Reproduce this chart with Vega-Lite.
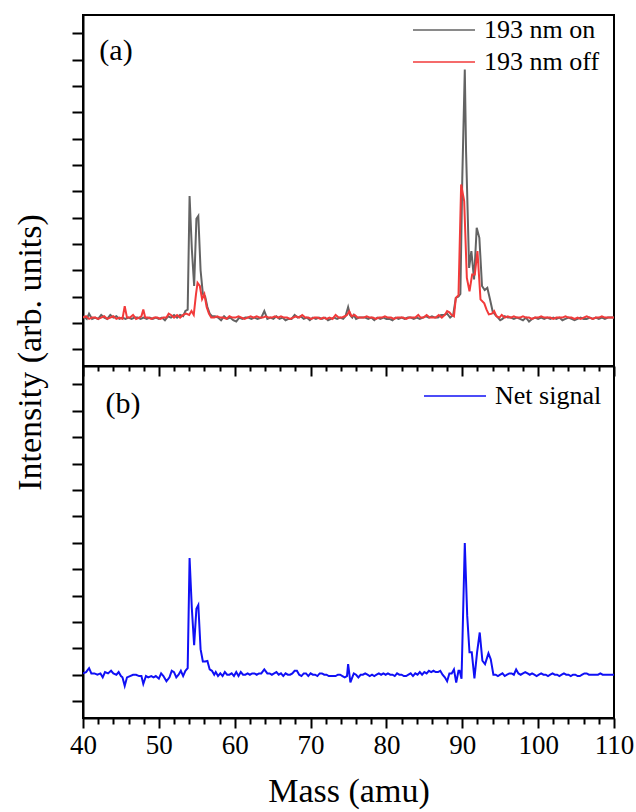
{
"$schema": "https://vega.github.io/schema/vega-lite/v6.json",
"padding": {"left": 12, "top": 14, "right": 4, "bottom": 2},
"background": "white",
"bounds": "flush",
"config": {
  "font": "Liberation Serif, Times New Roman, serif",
  "style": {"guide-label": {"font": "Liberation Serif, Times New Roman, serif"}, "guide-title": {"font": "Liberation Serif, Times New Roman, serif"}},
  "view": {"stroke": "black", "strokeWidth": 2},
  "axis": {"domainColor": "black", "domainWidth": 2, "tickColor": "black", "tickWidth": 2, "grid": false, "labelColor": "black", "titleColor": "black", "labelFont": "Liberation Serif, Times New Roman, serif", "titleFont": "Liberation Serif, Times New Roman, serif", "titleFontWeight": "normal"},
  "legend": {"labelFont": "Liberation Serif, Times New Roman, serif", "labelFontSize": 26, "labelColor": "black", "symbolType": "stroke", "symbolSize": 3844, "symbolStrokeWidth": 1.6, "labelOffset": 8, "clipHeight": 30, "rowPadding": 2, "padding": 0, "title": null}
},
"datasets": {
"on": [
{"m":40.0,"v":0.25},{"m":40.5,"v":0.15},{"m":40.8,"v":0.35},{"m":41.2,"v":0.15},{"m":41.6,"v":0.2},{"m":42.0,"v":0.15},{"m":42.4,"v":0.3},{"m":42.8,"v":0.2},{"m":43.2,"v":0.15},{"m":43.6,"v":0.3},{"m":44.0,"v":0.2},{"m":44.4,"v":0.25},{"m":44.8,"v":0.15},{"m":45.2,"v":0.2},{"m":45.6,"v":0.15},{"m":46.0,"v":0.2},{"m":46.4,"v":0.15},{"m":46.8,"v":0.2},{"m":47.2,"v":0.2},{"m":47.6,"v":0.15},{"m":48.0,"v":0.2},{"m":48.4,"v":0.15},{"m":48.8,"v":0.2},{"m":49.2,"v":0.15},{"m":49.6,"v":0.2},{"m":50.0,"v":0.15},{"m":50.4,"v":0.2},{"m":50.8,"v":0.1},{"m":51.2,"v":0.25},{"m":51.6,"v":0.2},{"m":52.0,"v":0.3},{"m":52.4,"v":0.2},{"m":52.8,"v":0.3},{"m":53.2,"v":0.25},{"m":53.5,"v":0.45},{"m":53.8,"v":0.5},{"m":54.05,"v":4.82},{"m":54.35,"v":2.8},{"m":54.65,"v":1.4},{"m":54.95,"v":3.95},{"m":55.2,"v":4.06},{"m":55.5,"v":2.0},{"m":55.8,"v":1.1},{"m":56.1,"v":1.0},{"m":56.4,"v":0.6},{"m":56.7,"v":0.35},{"m":57.0,"v":0.25},{"m":57.4,"v":0.25},{"m":57.8,"v":0.2},{"m":58.2,"v":0.1},{"m":58.6,"v":0.25},{"m":59.0,"v":0.15},{"m":59.4,"v":0.2},{"m":59.8,"v":0.1},{"m":60.2,"v":0.05},{"m":60.6,"v":0.2},{"m":61.0,"v":0.15},{"m":61.4,"v":0.2},{"m":61.8,"v":0.2},{"m":62.2,"v":0.15},{"m":62.6,"v":0.2},{"m":63.0,"v":0.15},{"m":63.5,"v":0.2},{"m":63.9,"v":0.45},{"m":64.3,"v":0.15},{"m":64.7,"v":0.2},{"m":65.1,"v":0.15},{"m":65.5,"v":0.25},{"m":65.9,"v":0.15},{"m":66.3,"v":0.2},{"m":66.7,"v":0.1},{"m":67.1,"v":0.15},{"m":67.5,"v":0.15},{"m":67.9,"v":0.3},{"m":68.3,"v":0.2},{"m":68.7,"v":0.25},{"m":69.1,"v":0.15},{"m":69.5,"v":0.2},{"m":69.9,"v":0.1},{"m":70.3,"v":0.2},{"m":70.7,"v":0.15},{"m":71.1,"v":0.2},{"m":71.5,"v":0.15},{"m":71.9,"v":0.2},{"m":72.3,"v":0.1},{"m":72.7,"v":0.15},{"m":73.1,"v":0.2},{"m":73.5,"v":0.15},{"m":73.9,"v":0.2},{"m":74.3,"v":0.15},{"m":74.6,"v":0.25},{"m":74.95,"v":0.6},{"m":75.2,"v":0.3},{"m":75.5,"v":0.2},{"m":75.7,"v":0.3},{"m":76.0,"v":0.15},{"m":76.4,"v":0.2},{"m":76.8,"v":0.2},{"m":77.2,"v":0.2},{"m":77.6,"v":0.15},{"m":78.0,"v":0.2},{"m":78.4,"v":0.1},{"m":78.8,"v":0.2},{"m":79.2,"v":0.15},{"m":79.6,"v":0.2},{"m":80.0,"v":0.15},{"m":80.4,"v":0.15},{"m":80.8,"v":0.1},{"m":81.2,"v":0.2},{"m":81.6,"v":0.15},{"m":82.0,"v":0.2},{"m":82.4,"v":0.15},{"m":82.8,"v":0.2},{"m":83.2,"v":0.2},{"m":83.6,"v":0.15},{"m":84.0,"v":0.2},{"m":84.4,"v":0.15},{"m":84.8,"v":0.2},{"m":85.2,"v":0.25},{"m":85.6,"v":0.2},{"m":86.0,"v":0.25},{"m":86.4,"v":0.2},{"m":86.8,"v":0.2},{"m":87.2,"v":0.3},{"m":87.6,"v":0.3},{"m":88.0,"v":0.35},{"m":88.4,"v":0.2},{"m":88.8,"v":0.3},{"m":89.15,"v":0.95},{"m":89.5,"v":1.0},{"m":89.75,"v":1.1},{"m":90.0,"v":5.5},{"m":90.33,"v":9.63},{"m":90.5,"v":6.5},{"m":90.9,"v":2.09},{"m":91.2,"v":2.73},{"m":91.55,"v":1.65},{"m":91.9,"v":3.61},{"m":92.25,"v":3.23},{"m":92.6,"v":1.4},{"m":92.95,"v":1.25},{"m":93.3,"v":1.33},{"m":93.65,"v":0.9},{"m":94.0,"v":0.44},{"m":94.35,"v":0.3},{"m":94.7,"v":0.2},{"m":95.0,"v":0.1},{"m":95.3,"v":0.15},{"m":95.6,"v":0.25},{"m":96.0,"v":0.2},{"m":96.4,"v":0.2},{"m":96.8,"v":0.15},{"m":97.2,"v":0.2},{"m":97.6,"v":0.15},{"m":98.0,"v":0.1},{"m":98.4,"v":0.2},{"m":98.8,"v":0.05},{"m":99.2,"v":0.15},{"m":99.6,"v":0.2},{"m":100.0,"v":0.15},{"m":100.4,"v":0.2},{"m":100.8,"v":0.15},{"m":101.2,"v":0.2},{"m":101.6,"v":0.15},{"m":102.0,"v":0.2},{"m":102.4,"v":0.15},{"m":102.8,"v":0.2},{"m":103.2,"v":0.1},{"m":103.6,"v":0.15},{"m":104.0,"v":0.2},{"m":104.4,"v":0.15},{"m":104.8,"v":0.1},{"m":105.2,"v":0.15},{"m":105.6,"v":0.2},{"m":106.0,"v":0.15},{"m":106.4,"v":0.15},{"m":106.8,"v":0.2},{"m":107.2,"v":0.15},{"m":107.6,"v":0.2},{"m":108.0,"v":0.15},{"m":108.4,"v":0.2},{"m":108.8,"v":0.15},{"m":109.2,"v":0.2},{"m":109.6,"v":0.2},{"m":110.0,"v":0.2}
],
"off": [
{"m":40.0,"v":0.2},{"m":40.4,"v":0.25},{"m":40.8,"v":0.15},{"m":41.2,"v":0.2},{"m":41.6,"v":0.2},{"m":42.0,"v":0.15},{"m":42.4,"v":0.2},{"m":42.8,"v":0.25},{"m":43.2,"v":0.15},{"m":43.6,"v":0.2},{"m":44.0,"v":0.25},{"m":44.4,"v":0.15},{"m":44.8,"v":0.2},{"m":45.2,"v":0.15},{"m":45.5,"v":0.63},{"m":45.8,"v":0.2},{"m":46.2,"v":0.2},{"m":46.6,"v":0.3},{"m":47.0,"v":0.15},{"m":47.4,"v":0.2},{"m":47.7,"v":0.25},{"m":47.95,"v":0.51},{"m":48.2,"v":0.2},{"m":48.6,"v":0.2},{"m":49.0,"v":0.15},{"m":49.4,"v":0.2},{"m":49.8,"v":0.2},{"m":50.2,"v":0.15},{"m":50.6,"v":0.2},{"m":51.0,"v":0.2},{"m":51.3,"v":0.35},{"m":51.6,"v":0.3},{"m":52.0,"v":0.2},{"m":52.4,"v":0.3},{"m":52.8,"v":0.2},{"m":53.2,"v":0.3},{"m":53.6,"v":0.35},{"m":54.0,"v":0.3},{"m":54.3,"v":0.45},{"m":54.6,"v":0.3},{"m":54.9,"v":1.1},{"m":55.1,"v":1.52},{"m":55.4,"v":1.4},{"m":55.7,"v":0.9},{"m":56.0,"v":1.09},{"m":56.3,"v":0.6},{"m":56.6,"v":0.35},{"m":56.9,"v":0.2},{"m":57.3,"v":0.2},{"m":57.7,"v":0.25},{"m":58.1,"v":0.2},{"m":58.5,"v":0.2},{"m":58.9,"v":0.15},{"m":59.3,"v":0.25},{"m":59.7,"v":0.2},{"m":60.1,"v":0.2},{"m":60.5,"v":0.25},{"m":60.9,"v":0.2},{"m":61.3,"v":0.15},{"m":61.7,"v":0.2},{"m":62.1,"v":0.25},{"m":62.5,"v":0.2},{"m":62.9,"v":0.25},{"m":63.3,"v":0.2},{"m":63.7,"v":0.2},{"m":64.1,"v":0.25},{"m":64.5,"v":0.2},{"m":64.9,"v":0.2},{"m":65.3,"v":0.25},{"m":65.7,"v":0.2},{"m":66.1,"v":0.25},{"m":66.5,"v":0.2},{"m":66.9,"v":0.2},{"m":67.3,"v":0.15},{"m":67.7,"v":0.2},{"m":68.1,"v":0.25},{"m":68.5,"v":0.2},{"m":68.9,"v":0.3},{"m":69.3,"v":0.2},{"m":69.7,"v":0.2},{"m":70.1,"v":0.15},{"m":70.5,"v":0.2},{"m":70.9,"v":0.2},{"m":71.3,"v":0.15},{"m":71.7,"v":0.2},{"m":72.1,"v":0.15},{"m":72.5,"v":0.2},{"m":72.9,"v":0.15},{"m":73.3,"v":0.3},{"m":73.7,"v":0.2},{"m":74.1,"v":0.2},{"m":74.5,"v":0.25},{"m":74.8,"v":0.3},{"m":75.1,"v":0.44},{"m":75.4,"v":0.25},{"m":75.8,"v":0.3},{"m":76.2,"v":0.2},{"m":76.6,"v":0.2},{"m":77.0,"v":0.2},{"m":77.4,"v":0.25},{"m":77.8,"v":0.2},{"m":78.2,"v":0.2},{"m":78.6,"v":0.15},{"m":79.0,"v":0.2},{"m":79.4,"v":0.2},{"m":79.8,"v":0.25},{"m":80.2,"v":0.2},{"m":80.6,"v":0.2},{"m":81.0,"v":0.15},{"m":81.4,"v":0.2},{"m":81.8,"v":0.2},{"m":82.2,"v":0.2},{"m":82.6,"v":0.15},{"m":83.0,"v":0.2},{"m":83.4,"v":0.2},{"m":83.8,"v":0.2},{"m":84.2,"v":0.3},{"m":84.5,"v":0.2},{"m":84.9,"v":0.2},{"m":85.3,"v":0.3},{"m":85.7,"v":0.2},{"m":86.1,"v":0.2},{"m":86.5,"v":0.2},{"m":86.9,"v":0.3},{"m":87.3,"v":0.2},{"m":87.7,"v":0.3},{"m":88.0,"v":0.45},{"m":88.3,"v":0.4},{"m":88.6,"v":0.3},{"m":88.9,"v":0.25},{"m":89.15,"v":0.95},{"m":89.5,"v":1.05},{"m":89.85,"v":5.26},{"m":90.25,"v":4.63},{"m":90.6,"v":1.71},{"m":90.95,"v":1.2},{"m":91.3,"v":1.84},{"m":91.65,"v":1.84},{"m":92.0,"v":2.73},{"m":92.4,"v":0.89},{"m":92.9,"v":0.74},{"m":93.2,"v":0.5},{"m":93.5,"v":0.32},{"m":93.9,"v":0.35},{"m":94.2,"v":0.45},{"m":94.5,"v":0.25},{"m":94.9,"v":0.2},{"m":95.2,"v":0.3},{"m":95.6,"v":0.2},{"m":96.0,"v":0.25},{"m":96.4,"v":0.2},{"m":96.8,"v":0.25},{"m":97.2,"v":0.2},{"m":97.6,"v":0.2},{"m":98.0,"v":0.25},{"m":98.4,"v":0.2},{"m":98.8,"v":0.2},{"m":99.2,"v":0.15},{"m":99.6,"v":0.2},{"m":100.0,"v":0.2},{"m":100.4,"v":0.25},{"m":100.8,"v":0.2},{"m":101.2,"v":0.2},{"m":101.6,"v":0.2},{"m":102.0,"v":0.15},{"m":102.4,"v":0.2},{"m":102.8,"v":0.2},{"m":103.2,"v":0.2},{"m":103.6,"v":0.25},{"m":104.0,"v":0.2},{"m":104.4,"v":0.2},{"m":104.8,"v":0.15},{"m":105.2,"v":0.2},{"m":105.6,"v":0.15},{"m":106.0,"v":0.2},{"m":106.4,"v":0.25},{"m":106.8,"v":0.2},{"m":107.2,"v":0.15},{"m":107.6,"v":0.2},{"m":108.0,"v":0.2},{"m":108.4,"v":0.25},{"m":108.8,"v":0.2},{"m":109.2,"v":0.2},{"m":109.6,"v":0.2},{"m":110.0,"v":0.2}
],
"net": [
{"m":40.0,"v":0.05},{"m":40.4,"v":0.1},{"m":40.8,"v":0.25},{"m":41.1,"v":0.05},{"m":41.5,"v":0.05},{"m":41.9,"v":0.0},{"m":42.3,"v":0.05},{"m":42.6,"v":-0.1},{"m":42.9,"v":0.1},{"m":43.3,"v":0.05},{"m":43.7,"v":0.15},{"m":44.0,"v":0.05},{"m":44.4,"v":0.0},{"m":44.7,"v":0.1},{"m":45.0,"v":-0.05},{"m":45.2,"v":-0.1},{"m":45.5,"v":-0.42},{"m":45.8,"v":-0.1},{"m":46.2,"v":-0.05},{"m":46.6,"v":0.0},{"m":47.0,"v":0.0},{"m":47.4,"v":-0.05},{"m":47.7,"v":-0.05},{"m":47.95,"v":-0.35},{"m":48.3,"v":-0.05},{"m":48.6,"v":-0.1},{"m":49.0,"v":-0.05},{"m":49.3,"v":-0.1},{"m":49.6,"v":-0.05},{"m":50.0,"v":-0.15},{"m":50.3,"v":0.05},{"m":50.6,"v":-0.05},{"m":51.0,"v":-0.25},{"m":51.4,"v":-0.1},{"m":51.7,"v":0.15},{"m":52.0,"v":0.1},{"m":52.3,"v":-0.1},{"m":52.6,"v":0.0},{"m":52.9,"v":0.15},{"m":53.2,"v":-0.05},{"m":53.5,"v":0.15},{"m":53.8,"v":0.25},{"m":54.05,"v":4.42},{"m":54.35,"v":2.5},{"m":54.65,"v":1.12},{"m":54.95,"v":2.5},{"m":55.2,"v":2.64},{"m":55.5,"v":0.97},{"m":55.8,"v":0.5},{"m":56.1,"v":0.5},{"m":56.4,"v":0.52},{"m":56.7,"v":0.2},{"m":57.0,"v":0.15},{"m":57.3,"v":0.0},{"m":57.5,"v":0.1},{"m":57.8,"v":-0.05},{"m":58.1,"v":0.05},{"m":58.4,"v":-0.05},{"m":58.7,"v":0.1},{"m":59.0,"v":0.0},{"m":59.3,"v":0.0},{"m":59.6,"v":0.05},{"m":59.9,"v":-0.05},{"m":60.2,"v":0.1},{"m":60.5,"v":-0.05},{"m":60.8,"v":0.1},{"m":61.1,"v":0.0},{"m":61.4,"v":0.0},{"m":61.7,"v":0.05},{"m":62.0,"v":0.0},{"m":62.3,"v":0.05},{"m":62.6,"v":0.05},{"m":62.9,"v":0.0},{"m":63.2,"v":0.05},{"m":63.5,"v":0.05},{"m":63.9,"v":0.2},{"m":64.3,"v":0.05},{"m":64.6,"v":0.05},{"m":64.9,"v":0.0},{"m":65.2,"v":0.05},{"m":65.5,"v":0.1},{"m":65.8,"v":0.0},{"m":66.1,"v":0.05},{"m":66.4,"v":-0.05},{"m":66.7,"v":0.05},{"m":67.0,"v":0.0},{"m":67.3,"v":0.0},{"m":67.6,"v":0.05},{"m":67.9,"v":0.15},{"m":68.2,"v":0.15},{"m":68.5,"v":0.0},{"m":68.8,"v":-0.05},{"m":69.1,"v":0.05},{"m":69.4,"v":0.05},{"m":69.7,"v":-0.05},{"m":70.0,"v":0.05},{"m":70.3,"v":0.0},{"m":70.6,"v":0.0},{"m":70.9,"v":-0.05},{"m":71.2,"v":0.05},{"m":71.5,"v":0.05},{"m":71.8,"v":0.0},{"m":72.1,"v":0.0},{"m":72.4,"v":-0.05},{"m":72.7,"v":-0.05},{"m":73.0,"v":-0.05},{"m":73.3,"v":-0.05},{"m":73.6,"v":0.0},{"m":73.9,"v":0.0},{"m":74.2,"v":-0.05},{"m":74.5,"v":-0.1},{"m":74.8,"v":-0.05},{"m":74.95,"v":0.4},{"m":75.25,"v":-0.29},{"m":75.5,"v":-0.1},{"m":75.7,"v":0.05},{"m":76.0,"v":0.0},{"m":76.3,"v":-0.1},{"m":76.6,"v":0.0},{"m":76.9,"v":0.0},{"m":77.2,"v":0.05},{"m":77.5,"v":0.0},{"m":77.8,"v":-0.05},{"m":78.1,"v":0.0},{"m":78.4,"v":-0.05},{"m":78.7,"v":0.0},{"m":79.0,"v":0.05},{"m":79.3,"v":0.0},{"m":79.6,"v":0.05},{"m":79.9,"v":0.0},{"m":80.2,"v":0.05},{"m":80.5,"v":0.0},{"m":80.8,"v":0.0},{"m":81.1,"v":-0.05},{"m":81.4,"v":0.05},{"m":81.7,"v":0.0},{"m":82.0,"v":0.0},{"m":82.3,"v":-0.05},{"m":82.6,"v":-0.05},{"m":82.9,"v":0.0},{"m":83.2,"v":0.05},{"m":83.5,"v":-0.05},{"m":83.8,"v":0.05},{"m":84.1,"v":0.0},{"m":84.4,"v":0.1},{"m":84.7,"v":0.0},{"m":85.0,"v":0.1},{"m":85.3,"v":0.05},{"m":85.6,"v":0.15},{"m":85.9,"v":0.1},{"m":86.2,"v":0.15},{"m":86.5,"v":0.1},{"m":86.8,"v":0.1},{"m":87.1,"v":0.15},{"m":87.4,"v":0.0},{"m":87.7,"v":-0.1},{"m":88.0,"v":-0.25},{"m":88.3,"v":0.05},{"m":88.6,"v":0.05},{"m":88.9,"v":0.2},{"m":89.2,"v":-0.3},{"m":89.5,"v":0.15},{"m":89.65,"v":0.15},{"m":89.9,"v":-0.15},{"m":90.33,"v":4.99},{"m":90.65,"v":2.23},{"m":90.95,"v":0.85},{"m":91.25,"v":0.85},{"m":91.6,"v":-0.14},{"m":91.95,"v":0.85},{"m":92.3,"v":1.6},{"m":92.65,"v":0.53},{"m":93.0,"v":0.4},{"m":93.45,"v":0.81},{"m":93.75,"v":0.59},{"m":94.1,"v":0.0},{"m":94.4,"v":0.0},{"m":94.7,"v":-0.05},{"m":95.0,"v":0.0},{"m":95.3,"v":0.05},{"m":95.6,"v":-0.05},{"m":95.9,"v":0.0},{"m":96.2,"v":0.05},{"m":96.5,"v":0.05},{"m":96.8,"v":0.0},{"m":97.1,"v":0.2},{"m":97.4,"v":0.05},{"m":97.7,"v":0.0},{"m":98.0,"v":0.05},{"m":98.3,"v":0.1},{"m":98.6,"v":0.05},{"m":98.9,"v":0.0},{"m":99.2,"v":0.05},{"m":99.5,"v":0.0},{"m":99.8,"v":-0.05},{"m":100.1,"v":0.0},{"m":100.4,"v":0.05},{"m":100.7,"v":0.0},{"m":101.0,"v":0.0},{"m":101.3,"v":-0.05},{"m":101.6,"v":0.0},{"m":101.9,"v":0.05},{"m":102.2,"v":0.0},{"m":102.5,"v":0.0},{"m":102.8,"v":-0.05},{"m":103.1,"v":0.0},{"m":103.4,"v":0.05},{"m":103.7,"v":0.0},{"m":104.0,"v":0.0},{"m":104.3,"v":-0.05},{"m":104.6,"v":0.0},{"m":104.9,"v":0.0},{"m":105.2,"v":-0.05},{"m":105.5,"v":-0.05},{"m":105.8,"v":0.0},{"m":106.1,"v":0.05},{"m":106.4,"v":0.05},{"m":106.7,"v":0.0},{"m":107.0,"v":0.0},{"m":107.3,"v":0.0},{"m":107.6,"v":0.0},{"m":107.9,"v":0.0},{"m":108.2,"v":0.05},{"m":108.5,"v":0.0},{"m":108.8,"v":0.0},{"m":109.1,"v":0.0},{"m":109.4,"v":0.0},{"m":109.7,"v":0.0},{"m":110.0,"v":0.0}
]
},
"spacing": 0,
"resolve": {"scale": {"color": "independent"}, "legend": {"color": "independent"}},
"vconcat": [
{
  "width": 531, "height": 351,
  "layer": [
    {"data": {"name": "on"}, "mark": {"type": "line", "strokeWidth": 2, "clip": true},
     "encoding": {
       "x": {"field": "m", "type": "quantitative", "scale": {"domain": [40, 110], "nice": false, "zero": false}, "axis": null},
       "y": {"field": "v", "type": "quantitative", "scale": {"domain": [-1.64, 11.7], "nice": false, "zero": false},
             "axis": {"values": [-1,0,1,2,3,4,5,6,7,8,9,10,11], "tickCount": 30, "labels": false, "tickSize": 11,
                      "title": "Intensity (arb. units)", "titleFont": "Liberation Serif, Times New Roman, serif", "titleFontWeight": "normal", "titleFontSize": 34, "titleAngle": -90, "titleX": -53, "titleY": 337,
                      "titleAlign": "center", "titleBaseline": "middle"}},
       "color": {"datum": "193 nm on", "type": "nominal", "scale": {"domain": ["193 nm on", "193 nm off"], "range": ["#636363", "#f23a3a"]},
                 "legend": {"orient": "none", "legendX": 329, "legendY": 0, "labelFont": "Liberation Serif, Times New Roman, serif", "labelFontSize": 26}}
     }},
    {"data": {"name": "off"}, "mark": {"type": "line", "strokeWidth": 2, "clip": true},
     "encoding": {
       "x": {"field": "m", "type": "quantitative"},
       "y": {"field": "v", "type": "quantitative"},
       "color": {"datum": "193 nm off", "type": "nominal"}
     }},
    {"data": {"values": [{"label": "(a)"}]}, "mark": {"type": "text", "fontSize": 30, "align": "center", "baseline": "middle", "color": "black", "font": "Liberation Serif, Times New Roman, serif"},
     "encoding": {"x": {"datum": 44.35, "type": "quantitative"}, "y": {"datum": 10.33, "type": "quantitative"}, "text": {"field": "label"}}}
  ]
},
{
  "width": 531, "height": 352,
  "resolve": {"axis": {"x": "independent"}},
  "layer": [
    {"data": {"name": "net"}, "mark": {"type": "line", "strokeWidth": 2, "clip": true},
     "encoding": {
       "x": {"field": "m", "type": "quantitative", "scale": {"domain": [40, 110], "nice": false, "zero": false},
             "axis": {"orient": "bottom", "values": [40,42,44,46,48,50,52,54,56,58,60,62,64,66,68,70,72,74,76,78,80,82,84,86,88,90,92,94,96,98,100,102,104,106,108,110],
                      "tickCount": 60, "labelExpr": "datum.value % 10 === 0 ? datum.label : ''", "labelOverlap": false, "labelFlush": false,
                      "tickSize": {"condition": {"test": "datum.value % 10 === 0", "value": 10}, "value": 6},
                      "labelFont": "Liberation Serif, Times New Roman, serif", "labelFontSize": 27, "labelPadding": 4,
                      "title": "Mass (amu)", "titleFont": "Liberation Serif, Times New Roman, serif", "titleFontWeight": "normal", "titleFontSize": 34, "titlePadding": 16}},
       "y": {"field": "v", "type": "quantitative", "scale": {"domain": [-1.64, 11.7], "nice": false, "zero": false},
             "axis": {"values": [-1,0,1,2,3,4,5,6,7,8,9,10,11], "tickCount": 30, "labels": false, "tickSize": 11, "title": null}},
       "color": {"datum": "Net signal", "type": "nominal", "scale": {"domain": ["Net signal"], "range": ["#1010f5"]},
                 "legend": {"orient": "none", "legendX": 340, "legendY": 15, "labelFont": "Liberation Serif, Times New Roman, serif", "labelFontSize": 26}}
     }},
    {"data": {"values": [{"label": "(b)"}]}, "mark": {"type": "text", "fontSize": 30, "align": "center", "baseline": "middle", "color": "black", "font": "Liberation Serif, Times New Roman, serif"},
     "encoding": {
       "x": {"datum": 45.27, "type": "quantitative",
             "axis": {"orient": "top", "values": [40,42,44,46,48,50,52,54,56,58,60,62,64,66,68,70,72,74,76,78,80,82,84,86,88,90,92,94,96,98,100,102,104,106,108,110],
                      "tickCount": 60, "labels": false, "title": null,
                      "tickSize": {"condition": {"test": "datum.value % 10 === 0", "value": -10}, "value": -5}}},
       "y": {"datum": 10.26, "type": "quantitative"},
       "text": {"field": "label"}}}
  ]
}
]
}
